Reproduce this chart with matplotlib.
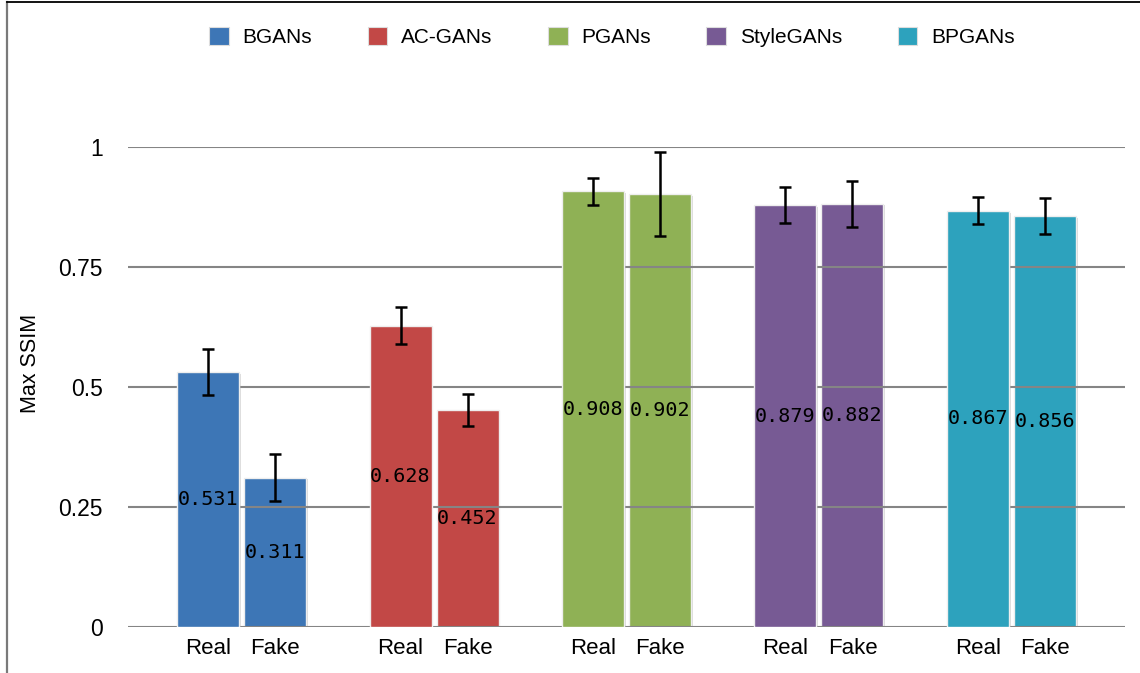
import matplotlib
matplotlib.use("Agg")
import matplotlib.pyplot as plt
import matplotlib.patheffects as pe
from matplotlib.lines import Line2D
from matplotlib.patches import Patch
import numpy as np

# Max SSIM per GAN family, real vs. generated (fake) images
models = ["BGANs", "AC-GANs", "PGANs", "StyleGANs", "BPGANs"]
real_ssim = [0.531, 0.628, 0.908, 0.879, 0.867]
fake_ssim = [0.311, 0.452, 0.902, 0.882, 0.856]
real_err = [0.048, 0.039, 0.028, 0.038, 0.028]
fake_err = [0.049, 0.034, 0.088, 0.048, 0.038]
colors = ["#3D76B6", "#C24846", "#8FB155", "#775A94", "#2DA2BD"]
yticks = [0, 0.25, 0.5, 0.75, 1]
ytick_labels = ["0", "0.25", "0.5", "0.75", "1"]

W, H = 1140, 673
fig = plt.figure(figsize=(W / 100, H / 100), dpi=100)
fig.patch.set_facecolor("white")
ax = fig.add_axes([128 / W, 1 - 627 / H, 997 / W, 480 / H])

x = np.arange(len(models))
off, bw = 0.174, 0.322
shadow = [pe.SimplePatchShadow(offset=(1.2, -1.2), shadow_rgbFace="#999999", alpha=0.35), pe.Normal()]

# gridlines sit between the fake bars (below) and real bars (above)
for yv in yticks:
    ax.axhline(yv, color="#858585", lw=1.5, zorder=2.5)

for i, c in enumerate(colors):
    rb = ax.bar(x[i] - off, real_ssim[i], bw, color=c, edgecolor="#eeeeee", lw=1.0, zorder=3)
    fb = ax.bar(x[i] + off, fake_ssim[i], bw, color=c, edgecolor="#eeeeee", lw=1.0, zorder=2)
    for b in list(rb) + list(fb):
        b.set_path_effects(shadow)
    ax.errorbar([x[i] - off, x[i] + off], [real_ssim[i], fake_ssim[i]],
                yerr=[real_err[i], fake_err[i]], fmt="none", ecolor="black",
                elinewidth=1.8, capsize=4.3, capthick=1.8, zorder=5)
    for xx, v in [(x[i] - off, real_ssim[i]), (x[i] + off, fake_ssim[i])]:
        ax.text(xx, v / 2, f"{v:.3f}", ha="center", va="center", fontsize=14.5,
                family="DejaVu Sans Mono", color="black", zorder=6)

ax.set_xlim(-0.59, 4.59)
ax.set_ylim(0, 1)
ax.set_xticks(np.concatenate([x - off, x + off]))
ax.set_xticklabels(["Real"] * 5 + ["Fake"] * 5, family="Liberation Sans", fontsize=16)
ax.set_yticks(yticks)
ax.set_yticklabels(ytick_labels, family="Liberation Sans", fontsize=16.5)
ax.tick_params(axis="x", length=0, pad=8)
ax.tick_params(axis="y", length=0, pad=18)
for s in ax.spines.values():
    s.set_visible(False)

fig.text(30 / W, 1 - 363 / H, "Max SSIM", rotation=90, ha="center", va="center",
         family="Liberation Sans", fontsize=15.5)

handles = [Patch(facecolor=c, edgecolor="#dddddd", lw=0.8) for c in colors]
fig.legend(handles, models, loc="center", bbox_to_anchor=(612 / W, 1 - 37 / H),
           ncol=5, frameon=False, prop={"family": "Liberation Sans", "size": 15},
           handlelength=0.95, handleheight=0.95, handletextpad=0.67, columnspacing=2.65)

# frame edges along the left and top of the canvas
fig.add_artist(Line2D([7 / W, 7 / W], [0, 1 - 2 / H], color="#7a7a7a", lw=1.6,
                      transform=fig.transFigure))
fig.add_artist(Line2D([7 / W, 1], [1 - 2 / H, 1 - 2 / H], color="black", lw=1.3,
                      transform=fig.transFigure))

fig.savefig("out.png", dpi=100, facecolor="white")
